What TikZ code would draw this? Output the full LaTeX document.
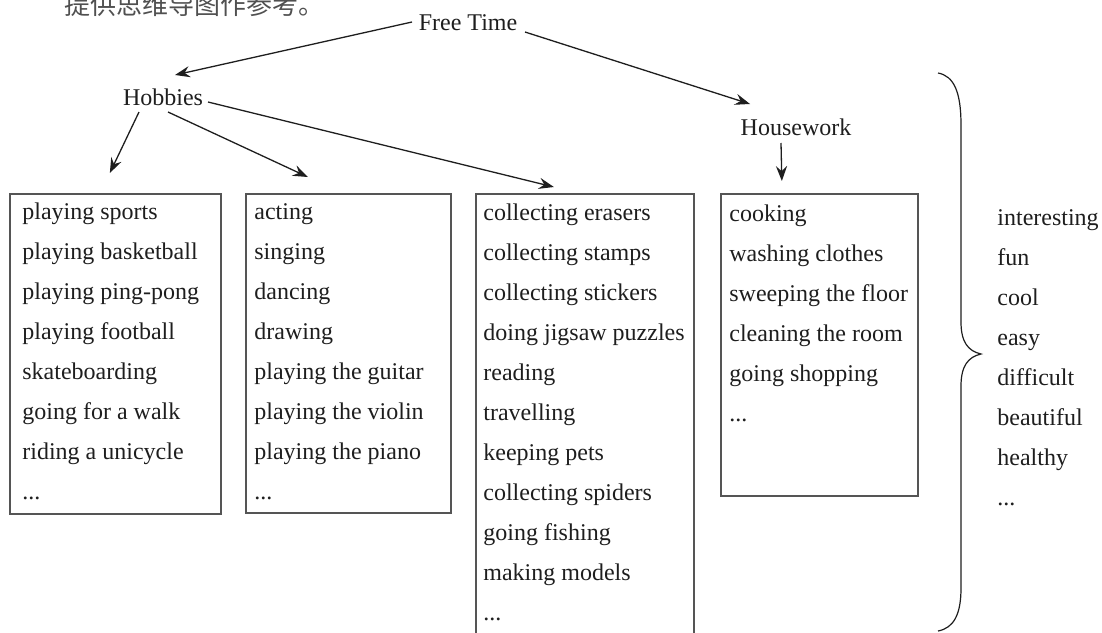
\documentclass[tikz,border=0pt]{standalone}
\usepackage{fontspec}
\setmainfont{Liberation Serif}
\newfontfamily\cjk{Noto Sans CJK SC}
\usetikzlibrary{arrows.meta}
\definecolor{ink}{HTML}{1E1E1E}
\definecolor{boxline}{HTML}{555555}
\definecolor{cjkgray}{HTML}{505050}
\newcommand\mydots{...}
\tikzset{
  lbl/.style={inner sep=0pt, text=ink, font=\fontsize{12}{14}\selectfont},
  item/.style={inner sep=0pt, text=ink, font=\fontsize{12}{14}\selectfont, anchor=base west},
  listbox/.style={draw=boxline, line width=0.85pt, inner sep=0pt, anchor=north west},
  arr/.style={draw=ink, line width=0.65pt, -{Stealth[length=7.5pt,width=5.6pt,inset=2.6pt]}},
  bracepath/.style={draw=ink, line width=0.6pt}
}
\begin{document}
\begin{tikzpicture}[x=0.5pt, y=-0.5pt]
\useasboundingbox (0,0) rectangle (1102,632);
\clip (0,0) rectangle (1102,632);
% cut-off Chinese heading
\node[inner sep=0pt, anchor=base west, text=cjkgray, font=\cjk\fontsize{13}{15}\selectfont] (head) at (64,14) {提供思维导图作参考。};
% headings
\node[lbl] (ft) at (468,23) {Free Time};
\node[lbl] (hob) at (163,97) {Hobbies};
\node[lbl] (hw) at (796,127) {Housework};
% boxes
\node[listbox, minimum width=105.5pt, minimum height=160pt] (b1) at (9,193) {};
\node[listbox, minimum width=102.5pt, minimum height=159.5pt] (b2) at (245,193) {};
\node[listbox, minimum width=109pt, minimum height=226pt] (b3) at (475,193) {};
\node[listbox, minimum width=98.5pt, minimum height=151pt] (b4) at (720,193) {};
% items
\foreach \t [count=\i] in {playing sports,playing basketball,playing ping-pong,playing football,skateboarding,going for a walk,riding a unicycle,\mydots}
  \node[item] (l1-\i) at (22,{219+40*(\i-1)}) {\t};
\foreach \t [count=\i] in {acting,singing,dancing,drawing,playing the guitar,playing the violin,playing the piano,\mydots}
  \node[item] (l2-\i) at (254,{219+40*(\i-1)}) {\t};
\foreach \t [count=\i] in {collecting erasers,collecting stamps,collecting stickers,doing jigsaw puzzles,reading,travelling,keeping pets,collecting spiders,going fishing,making models,\mydots}
  \node[item] (l3-\i) at (483,{220+40*(\i-1)}) {\t};
\foreach \t [count=\i] in {cooking,washing clothes,sweeping the floor,cleaning the room,going shopping,\mydots}
  \node[item] (l4-\i) at (729,{221+40*(\i-1)}) {\t};
\foreach \t [count=\i] in {interesting,fun,cool,easy,difficult,beautiful,healthy,\mydots}
  \node[item] (adj-\i) at (997,{225+40*(\i-1)}) {\t};
% connectors
\draw[arr] ([shift={(-56,-1)}]ft.center) -- ([shift={(12,-22)}]hob.center);
\draw[arr] ([shift={(57,9)}]ft.center) -- ([shift={(-46,-23)}]hw.center);
\draw[arr] ([shift={(-24,15)}]hob.center) -- ([shift={(-5.5,-20)}]b1.north);
\draw[arr] ([shift={(5,15)}]hob.center) -- ([shift={(-40.5,-16)}]b2.north);
\draw[arr] ([shift={(45,5)}]hob.center) -- ([shift={(-31,-6)}]b3.north);
\draw[arr] ([shift={(-15,16)}]hw.center) -- ([shift={(-37.5,-12)}]b4.north);
% brace
\coordinate (brtop) at (938,73);
\coordinate (brtip) at (981,354);
\coordinate (brbot) at (938,631);
\draw[bracepath] (brtop) .. controls (954,76) and (961,92) .. (961,125)
  -- (961,322) .. controls (961,342) and (968,351) .. (brtip)
  .. controls (968,357) and (961,366) .. (961,386)
  -- (961,588) .. controls (961,614) and (954,628) .. (brbot);
\end{tikzpicture}
\end{document}
